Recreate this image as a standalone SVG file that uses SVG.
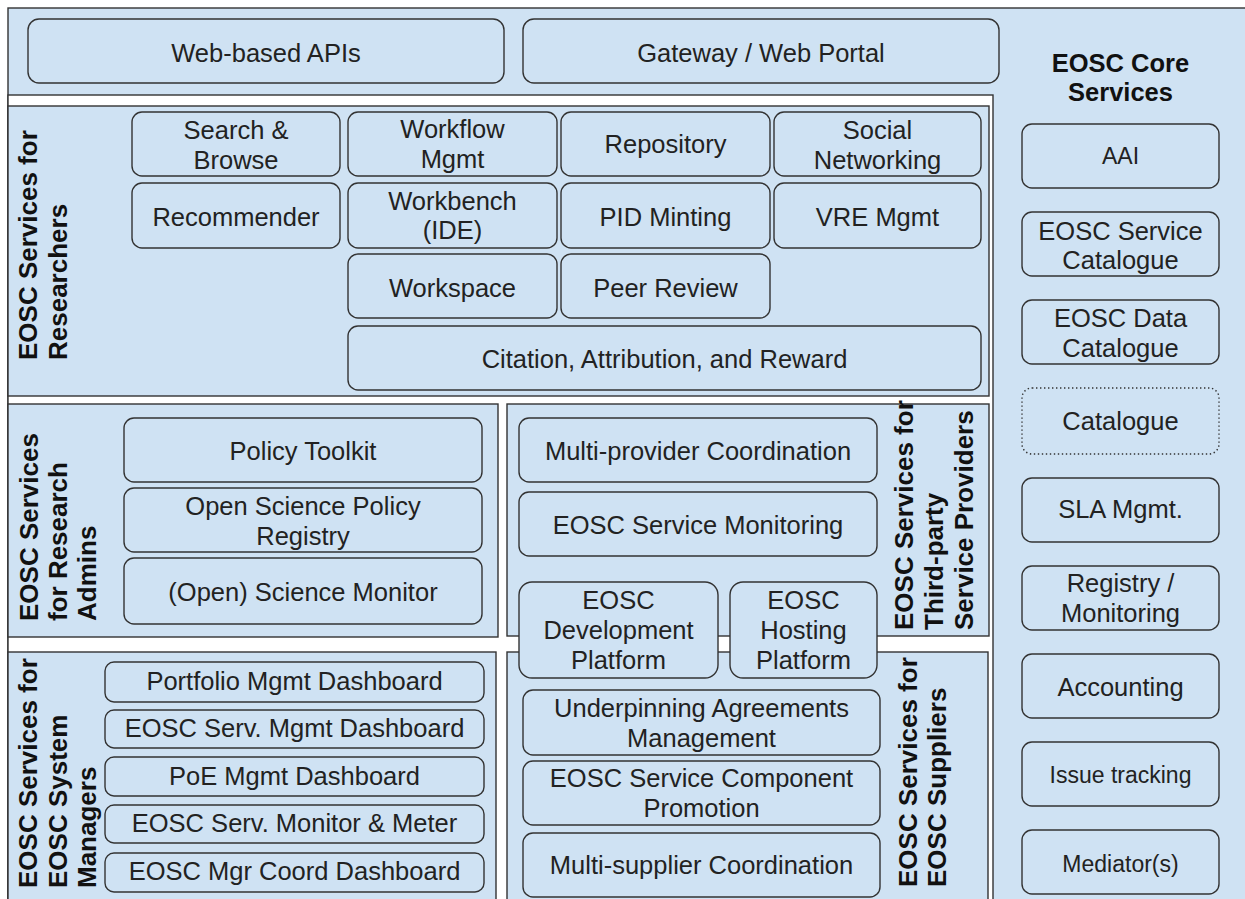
<svg xmlns="http://www.w3.org/2000/svg" width="1245" height="899" viewBox="0 0 1245 899">
<style>
.bg{fill:#cfe2f3;stroke:#333;stroke-width:1.4}
.ct{fill:#fff;stroke:#333;stroke-width:1.4}
.sec{fill:#cfe2f3;stroke:#333;stroke-width:1.4}
.n{fill:#cfe2f3;stroke:#333;stroke-width:1.4}
.dot{fill:#cfe2f3;stroke:#333;stroke-width:1.4;stroke-dasharray:1.4 2.6}
text{font-family:"Liberation Sans",Arial,sans-serif;fill:#222}
.t{font-size:25.5px;text-anchor:middle}
.s{font-size:23px;text-anchor:middle}
.h{font-size:25.5px;font-weight:bold;text-anchor:middle;fill:#111}
.v{font-size:26px;font-weight:bold;fill:#111}
</style>
<g id="background">
<rect class="bg" x="8" y="8" width="1250" height="900"/>
<rect class="ct" x="8" y="95" width="985" height="820"/>
</g>
<g id="section-researchers">
<rect class="sec" x="8" y="106" width="981" height="290"/>
<text class="v" transform="translate(37,360) rotate(-90)">EOSC Services for</text>
<text class="v" transform="translate(67,360) rotate(-90)">Researchers</text>
</g>
<g id="section-admins">
<rect class="sec" x="8" y="404" width="490" height="233"/>
<text class="v" transform="translate(38,621) rotate(-90)">EOSC Services</text>
<text class="v" transform="translate(67,621) rotate(-90)">for Research</text>
<text class="v" transform="translate(96,621) rotate(-90)">Admins</text>
</g>
<g id="section-thirdparty">
<rect class="sec" x="507" y="404" width="482" height="232"/>
<text class="v" transform="translate(913,630) rotate(-90)">EOSC Services for</text>
<text class="v" transform="translate(943,630) rotate(-90)">Third-party</text>
<text class="v" transform="translate(973,630) rotate(-90)">Service Providers</text>
</g>
<g id="section-managers">
<rect class="sec" x="8" y="652" width="488" height="260"/>
<text class="v" transform="translate(37,888) rotate(-90)">EOSC Services for</text>
<text class="v" transform="translate(67,888) rotate(-90)">EOSC System</text>
<text class="v" transform="translate(96,888) rotate(-90)">Managers</text>
</g>
<g id="section-suppliers">
<rect class="sec" x="507" y="652" width="481" height="260"/>
<text class="v" transform="translate(917,887) rotate(-90)">EOSC Services for</text>
<text class="v" transform="translate(946,887) rotate(-90)">EOSC Suppliers</text>
</g>
<g id="core-title"><text class="h" x="1120.5" y="72">EOSC Core</text><text class="h" x="1120.5" y="101">Services</text></g>

<g id="web-apis"><rect class="n" x="28" y="19" width="476" height="64" rx="11"/><text class="t" x="266" y="62">Web-based APIs</text></g>
<g id="gateway"><rect class="n" x="523" y="19" width="476" height="64" rx="11"/><text class="t" x="761" y="62">Gateway / Web Portal</text></g>

<g id="search-browse"><rect class="n" x="132" y="112" width="208" height="64" rx="10"/><text class="t" x="236" y="139">Search &amp;</text><text class="t" x="236" y="169">Browse</text></g>
<g id="workflow"><rect class="n" x="348" y="112" width="209" height="64" rx="10"/><text class="t" x="452.5" y="138">Workflow</text><text class="t" x="452.5" y="168">Mgmt</text></g>
<g id="repository"><rect class="n" x="561" y="112" width="209" height="64" rx="10"/><text class="t" x="665.5" y="153">Repository</text></g>
<g id="social"><rect class="n" x="774" y="112" width="207" height="64" rx="10"/><text class="t" x="877.5" y="139">Social</text><text class="t" x="877.5" y="169">Networking</text></g>
<g id="recommender"><rect class="n" x="132" y="183" width="208" height="65" rx="10"/><text class="t" x="236" y="226">Recommender</text></g>
<g id="workbench"><rect class="n" x="348" y="183" width="209" height="65" rx="10"/><text class="t" x="452.5" y="210">Workbench</text><text class="t" x="452.5" y="239">(IDE)</text></g>
<g id="pid"><rect class="n" x="561" y="183" width="209" height="65" rx="10"/><text class="t" x="665.5" y="226">PID Minting</text></g>
<g id="vre"><rect class="n" x="774" y="183" width="207" height="65" rx="10"/><text class="t" x="877.5" y="226">VRE Mgmt</text></g>
<g id="workspace"><rect class="n" x="348" y="254" width="209" height="64" rx="10"/><text class="t" x="452.5" y="297">Workspace</text></g>
<g id="peer-review"><rect class="n" x="561" y="254" width="209" height="64" rx="10"/><text class="t" x="665.5" y="297">Peer Review</text></g>
<g id="citation"><rect class="n" x="348" y="326" width="633" height="64" rx="10"/><text class="t" x="664.5" y="368">Citation, Attribution, and Reward</text></g>

<g id="policy-toolkit"><rect class="n" x="124" y="418" width="358" height="64" rx="10"/><text class="t" x="303" y="460">Policy Toolkit</text></g>
<g id="os-policy-registry"><rect class="n" x="124" y="488" width="358" height="64" rx="10"/><text class="t" x="303" y="515">Open Science Policy</text><text class="t" x="303" y="545">Registry</text></g>
<g id="science-monitor"><rect class="n" x="124" y="558" width="358" height="66" rx="10"/><text class="t" x="303" y="601">(Open) Science Monitor</text></g>

<g id="multi-provider"><rect class="n" x="519" y="418" width="358" height="64" rx="10"/><text class="t" x="698" y="460">Multi-provider Coordination</text></g>
<g id="service-monitoring"><rect class="n" x="519" y="492" width="358" height="64" rx="10"/><text class="t" x="698" y="534">EOSC Service Monitoring</text></g>
<g id="dev-platform"><rect class="n" x="519" y="582" width="199" height="96" rx="13"/><text class="t" x="618.5" y="609">EOSC</text><text class="t" x="618.5" y="639">Development</text><text class="t" x="618.5" y="669">Platform</text></g>
<g id="hosting-platform"><rect class="n" x="730" y="582" width="147" height="96" rx="13"/><text class="t" x="803.5" y="609">EOSC</text><text class="t" x="803.5" y="639">Hosting</text><text class="t" x="803.5" y="669">Platform</text></g>

<g id="portfolio"><rect class="n" x="105" y="662" width="379" height="40" rx="9"/><text class="t" x="294.5" y="690">Portfolio Mgmt Dashboard</text></g>
<g id="serv-mgmt"><rect class="n" x="105" y="710" width="379" height="38" rx="9"/><text class="t" x="294.5" y="737">EOSC Serv. Mgmt Dashboard</text></g>
<g id="poe"><rect class="n" x="105" y="757" width="379" height="39" rx="9"/><text class="t" x="294.5" y="785">PoE Mgmt Dashboard</text></g>
<g id="monitor-meter"><rect class="n" x="105" y="805" width="379" height="38" rx="9"/><text class="t" x="294.5" y="832">EOSC Serv. Monitor &amp; Meter</text></g>
<g id="mgr-coord"><rect class="n" x="105" y="853" width="379" height="39" rx="9"/><text class="t" x="294.5" y="880">EOSC Mgr Coord Dashboard</text></g>

<g id="underpinning"><rect class="n" x="523" y="690" width="357" height="65" rx="10"/><text class="t" x="701.5" y="717">Underpinning Agreements</text><text class="t" x="701.5" y="747">Management</text></g>
<g id="component-promotion"><rect class="n" x="523" y="761" width="357" height="64" rx="10"/><text class="t" x="701.5" y="787">EOSC Service Component</text><text class="t" x="701.5" y="817">Promotion</text></g>
<g id="multi-supplier"><rect class="n" x="523" y="833" width="357" height="64" rx="10"/><text class="t" x="701.5" y="874">Multi-supplier Coordination</text></g>

<g id="aai"><rect class="n" x="1022" y="124" width="197" height="64" rx="10"/><text class="s" x="1120.5" y="164">AAI</text></g>
<g id="service-catalogue"><rect class="n" x="1022" y="212" width="197" height="64" rx="10"/><text class="t" x="1120.5" y="240">EOSC Service</text><text class="t" x="1120.5" y="269">Catalogue</text></g>
<g id="data-catalogue"><rect class="n" x="1022" y="300" width="197" height="64" rx="10"/><text class="t" x="1120.5" y="327">EOSC Data</text><text class="t" x="1120.5" y="357">Catalogue</text></g>
<g id="catalogue"><rect class="dot" x="1022" y="388" width="197" height="66" rx="10"/><text class="t" x="1120.5" y="430">Catalogue</text></g>
<g id="sla"><rect class="n" x="1022" y="478" width="197" height="64" rx="10"/><text class="t" x="1120.5" y="518">SLA Mgmt.</text></g>
<g id="registry-monitoring"><rect class="n" x="1022" y="566" width="197" height="64" rx="10"/><text class="t" x="1120.5" y="592">Registry /</text><text class="t" x="1120.5" y="622">Monitoring</text></g>
<g id="accounting"><rect class="n" x="1022" y="654" width="197" height="64" rx="10"/><text class="t" x="1120.5" y="696">Accounting</text></g>
<g id="issue-tracking"><rect class="n" x="1022" y="742" width="197" height="64" rx="10"/><text class="s" x="1120.5" y="783">Issue tracking</text></g>
<g id="mediators"><rect class="n" x="1022" y="830" width="197" height="64" rx="10"/><text class="s" x="1120.5" y="872">Mediator(s)</text></g>
<g id="connectors"/>
</svg>
